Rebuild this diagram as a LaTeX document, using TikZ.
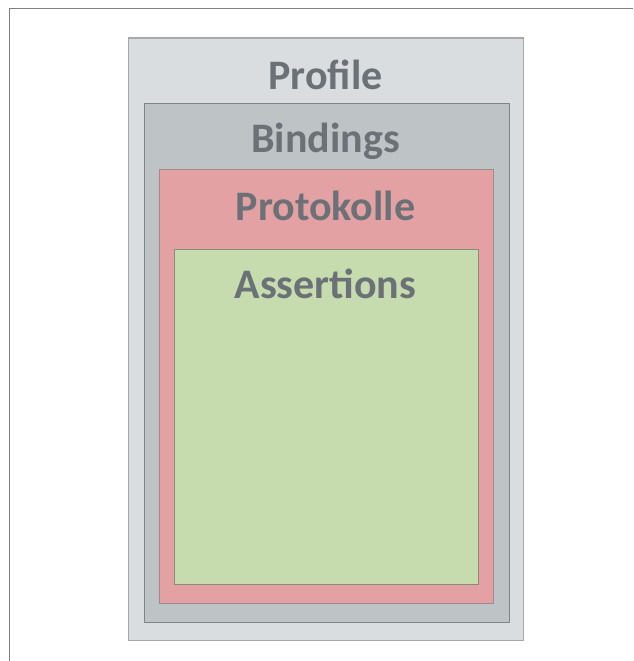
\documentclass[tikz,border=0pt]{standalone}
\usepackage{fontspec}
\setmainfont{Carlito}
\begin{document}
\begin{tikzpicture}[x=1pt,y=-1pt,
  layer/.style={draw, line width=1.3pt, anchor=north west, inner sep=0pt},
  title/.style={anchor=base, text=labelgray, font=\fontsize{42}{50}\selectfont\bfseries},
]
\definecolor{labelgray}{HTML}{6B7176}
\definecolor{frameline}{HTML}{808080}
\definecolor{pfill}{HTML}{D9DDE0}\definecolor{pdraw}{HTML}{A6A8AD}
\definecolor{bfill}{HTML}{BEC3C6}\definecolor{bdraw}{HTML}{80858A}
\definecolor{rfill}{HTML}{E3A1A3}\definecolor{rdraw}{HTML}{9C8C8D}
\definecolor{gfill}{HTML}{C6DCAE}\definecolor{gdraw}{HTML}{8E8C74}
\useasboundingbox (0,0) rectangle (633,661);
\coordinate (fa) at (9.5,661);
\coordinate (fb) at (9.5,8.5);
\coordinate (fc) at (633,8.5);
\draw[frameline, line width=1.4pt] (fa) -- (fb) -- (fc);
\node[layer, fill=pfill, draw=pdraw, minimum width=395pt, minimum height=602pt] (profile) at (128,37.5) {};
\node[layer, fill=bfill, draw=bdraw, minimum width=365pt, minimum height=519pt] (bindings) at (144,103) {};
\node[layer, fill=rfill, draw=rdraw, minimum width=334pt, minimum height=434pt] (proto) at (159,169) {};
\node[layer, fill=gfill, draw=gdraw, minimum width=304pt, minimum height=335pt] (assert) at (174,249) {};
\node[title] (tprofile) at (325.5,89) {Profile};
\node[title] (tbindings) at (325.5,152) {Bindings};
\node[title] (tproto) at (325.5,220) {Protokolle};
\node[title] (tassert) at (325.5,298) {Assertions};
\end{tikzpicture}
\end{document}
